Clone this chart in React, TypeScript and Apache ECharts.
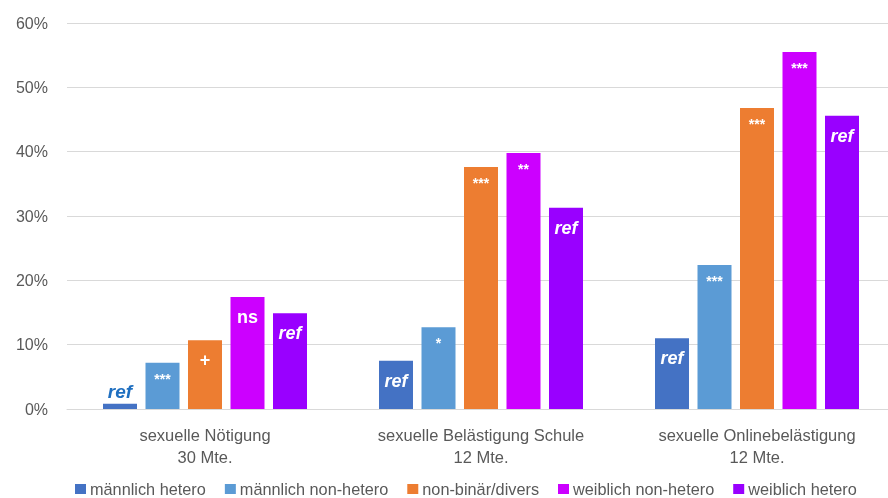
import React, { useEffect, useRef } from "react";
import * as echarts from "echarts";

const categories = [
  "sexuelle Nötigung\n30 Mte.",
  "sexuelle Belästigung Schule\n12 Mte.",
  "sexuelle Onlinebelästigung\n12 Mte.",
];
const seriesNames = [
  "männlich hetero",
  "männlich non-hetero",
  "non-binär/divers",
  "weiblich non-hetero",
  "weiblich hetero",
];
const maleHetero = [0.8, 7.5, 11.0];
const maleNonHetero = [7.2, 12.7, 22.4];
const nonBinary = [10.7, 37.6, 46.8];
const femaleNonHetero = [17.4, 39.8, 55.5];
const femaleHetero = [14.9, 31.3, 45.6];
const sigMaleHetero = ["ref", "ref", "ref"];
const sigMaleNonHetero = ["***", "*", "***"];
const sigNonBinary = ["+", "***", "***"];
const sigFemaleNonHetero = ["ns", "**", "***"];
const sigFemaleHetero = ["ref", "ref", "ref"];
const colors = ["#4472C4", "#5B9BD5", "#ED7D31", "#CC00FF", "#9900FF"];
const yTicks = [0, 10, 20, 30, 40, 50, 60];

const FONT = "'Liberation Sans', Arial, sans-serif";

function labelFor(sig: string, value: number) {
  const isRef = sig === "ref";
  const big = isRef || sig === "ns" || sig === "+";
  if (value < 3) {
    return {
      show: true,
      position: "top",
      distance: 3,
      formatter: sig,
      color: "#1F6FC0",
      fontSize: 19,
      fontWeight: "bold",
      fontStyle: "italic",
      fontFamily: FONT,
    };
  }
  return {
    show: true,
    position: "insideTop",
    distance: big ? 11 : 9,
    formatter: sig,
    color: "#ffffff",
    fontSize: big ? 18 : 14,
    fontWeight: "bold",
    fontStyle: isRef ? "italic" : "normal",
    fontFamily: FONT,
  };
}

export default function App() {
  const ref = useRef<HTMLDivElement>(null);
  useEffect(() => {
    if (!ref.current) return;
    const chart = echarts.init(ref.current, undefined, { renderer: "svg" });
    const values = [maleHetero, maleNonHetero, nonBinary, femaleNonHetero, femaleHetero];
    const sigs = [sigMaleHetero, sigMaleNonHetero, sigNonBinary, sigFemaleNonHetero, sigFemaleHetero];
    chart.setOption({
      animation: false,
      textStyle: { fontFamily: FONT },
      grid: { left: 67, right: 0, top: 23, bottom: 89 },
      legend: {
        data: seriesNames,
        top: 480,
        left: 75,
        padding: 0,
        itemWidth: 11,
        itemHeight: 10,
        itemGap: 19,
        icon: "rect",
        textStyle: {
          fontSize: 16.3,
          lineHeight: 18,
          color: "#595959",
          fontFamily: FONT,
          padding: [0, 0, 0, -1],
        },
      },
      xAxis: {
        type: "category",
        data: categories,
        axisTick: { show: false },
        axisLine: { lineStyle: { color: "#D9D9D9", width: 1 } },
        axisLabel: {
          color: "#595959",
          fontSize: 16.5,
          lineHeight: 22,
          margin: 15,
          fontFamily: FONT,
        },
      },
      yAxis: {
        type: "value",
        min: 0,
        max: 60,
        interval: 10,
        axisLabel: {
          formatter: (v: number) => (yTicks.includes(v) ? v + "%" : ""),
          color: "#595959",
          fontSize: 16,
          margin: 19,
          fontFamily: FONT,
        },
        splitLine: { lineStyle: { color: "#D9D9D9", width: 1 } },
        axisLine: { show: false },
        axisTick: { show: false },
      },
      series: seriesNames.map((name, i) => ({
        name,
        type: "bar",
        barWidth: 34,
        barGap: "25%",
        itemStyle: { color: colors[i] },
        data: values[i].map((v, j) => ({
          value: v,
          label: labelFor(sigs[i][j], v),
        })),
      })),
    });
    return () => chart.dispose();
  }, []);
  return (
    <div
      ref={ref}
      style={{ position: "fixed", left: 0, top: 0, width: 895, height: 498 }}
    />
  );
}
